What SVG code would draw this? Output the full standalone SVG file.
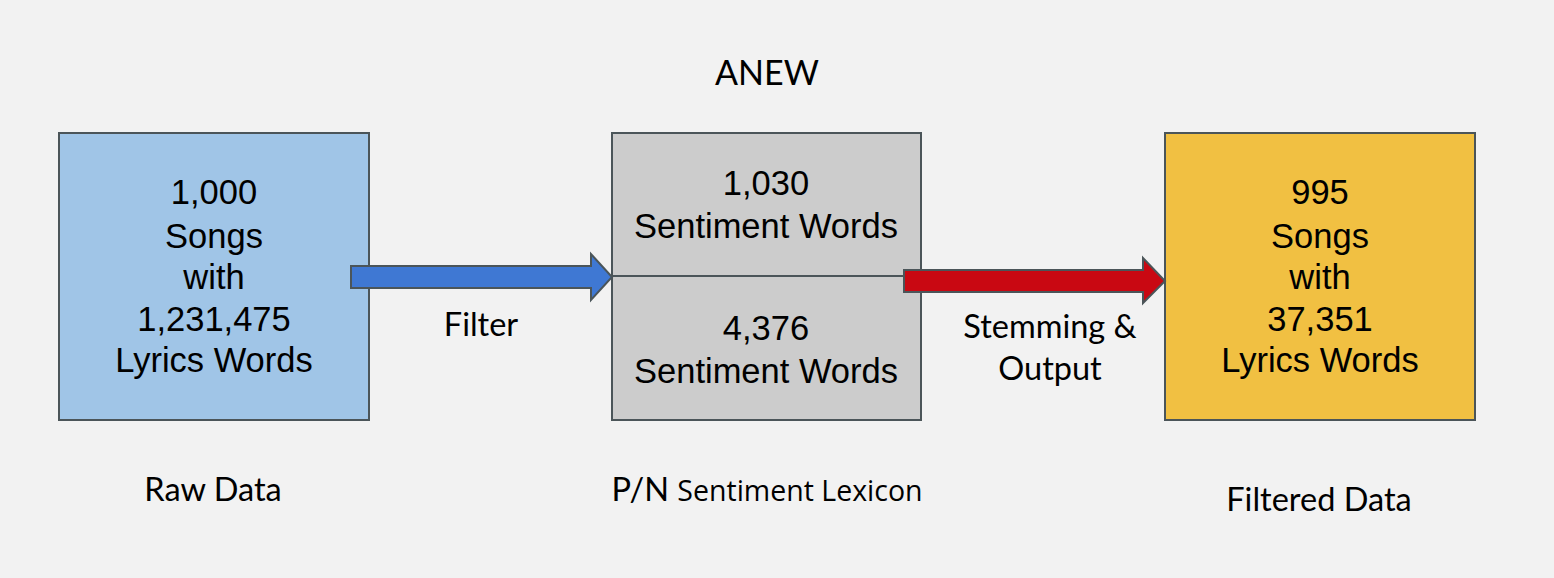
<svg xmlns="http://www.w3.org/2000/svg" width="1554" height="578" viewBox="0 0 1554 578">
<style>
.box{stroke:#4b5559;stroke-width:2}
.t{font-family:"Liberation Sans",Arial,sans-serif;font-size:34.5px;fill:#000;text-anchor:middle}
.l{font-family:Lato,"Open Sans",sans-serif;font-size:32.5px;fill:#000;text-anchor:middle}
.s{font-family:"Open Sans","Noto Sans",sans-serif;font-size:28.5px}
.arr{stroke:#4b5559;stroke-width:2;stroke-linejoin:miter}
</style>
<rect width="1554" height="578" fill="#f2f2f2"/>
<g id="raw">
<rect class="box" x="59" y="133" width="310" height="287" fill="#a0c5e7"/>
<text class="t" x="214" y="204">1,000</text>
<text class="t" x="214" y="248">Songs</text>
<text class="t" x="214" y="289">with</text>
<text class="t" x="214" y="331">1,231,475</text>
<text class="t" x="214" y="372">Lyrics Words</text>
<text class="l" x="213" y="501">Raw Data</text>
</g>
<g id="lexicon">
<rect class="box" x="612" y="133" width="309" height="287" fill="#cccccc"/>
<line class="box" x1="612" y1="276" x2="921" y2="276"/>
<text class="t" x="766" y="195">1,030</text>
<text class="t" x="766" y="238">Sentiment Words</text>
<text class="t" x="766" y="340">4,376</text>
<text class="t" x="766" y="383">Sentiment Words</text>
<text class="l" x="767" y="85" style="font-size:34px">ANEW</text>
<text class="l" x="767" y="501">P/N <tspan class="s">Sentiment Lexicon</tspan></text>
</g>
<g id="filtered">
<rect class="box" x="1165" y="133" width="310" height="287" fill="#f1c042"/>
<text class="t" x="1320" y="204">995</text>
<text class="t" x="1320" y="248">Songs</text>
<text class="t" x="1320" y="289">with</text>
<text class="t" x="1320" y="331">37,351</text>
<text class="t" x="1320" y="372">Lyrics Words</text>
<text class="l" x="1319" y="511">Filtered Data</text>
</g>
<g id="connectors">
<polygon class="arr" fill="#3f78d3" points="351,266 591,266 591,254 612,277 591,300 591,288 351,288"/>
<text class="l" x="481" y="336">Filter</text>
<polygon class="arr" fill="#c90812" points="904,270 1143,270 1143,258 1165,281 1143,303 1143,292 904,292"/>
<text class="l" x="1050" y="338">Stemming &amp;</text>
<text class="l" x="1050" y="380">Output</text>
</g>
</svg>
